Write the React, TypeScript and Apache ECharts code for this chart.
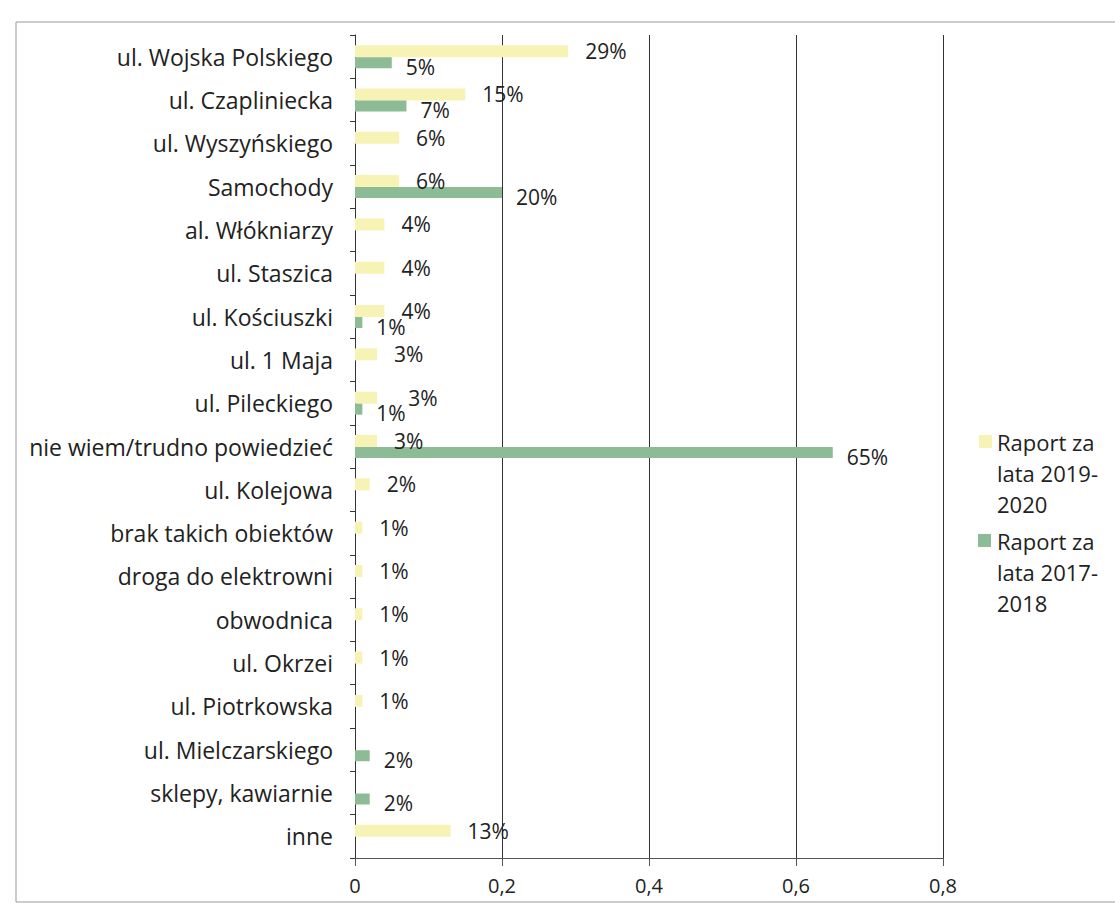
import React, { useEffect, useRef } from "react";
import * as echarts from "echarts";

const categories = [
  "ul. Wojska Polskiego",
  "ul. Czapliniecka",
  "ul. Wyszyńskiego",
  "Samochody",
  "al. Włókniarzy",
  "ul. Staszica",
  "ul. Kościuszki",
  "ul. 1 Maja",
  "ul. Pileckiego",
  "nie wiem/trudno powiedzieć",
  "ul. Kolejowa",
  "brak takich obiektów",
  "droga do elektrowni",
  "obwodnica",
  "ul. Okrzei",
  "ul. Piotrkowska",
  "ul. Mielczarskiego",
  "sklepy, kawiarnie",
  "inne",
];

const report2019_2020 = [0.29, 0.15, 0.06, 0.06, 0.04, 0.04, 0.04, 0.03, 0.03, 0.03, 0.02, 0.01, 0.01, 0.01, 0.01, 0.01, null, null, 0.13];
const report2017_2018 = [0.05, 0.07, null, 0.2, null, null, 0.01, null, 0.01, 0.65, null, null, null, null, null, null, 0.02, 0.02, null];

const xTicks = ["0", "0,2", "0,4", "0,6", "0,8"];
const seriesNames = ["Raport za lata 2019-2020", "Raport za lata 2017-2018"];
const colors = ["#f6f3b4", "#8dbb95"];

const FONT = "Open Sans";
const X_MAX = 0.8;
const GRID_LEFT = 355;
const GRID_RIGHT = 172;
const W = 1115;
const Y_DIST = 17;
const G_DIST = 14;
const LABEL_W = 28;

export default function App() {
  const ref = useRef<HTMLDivElement>(null);
  useEffect(() => {
    document.body.style.margin = "0";
    const chart = echarts.init(ref.current!, undefined, { renderer: "svg" });
    const labelFmt = (p: any) => Math.round(p.value * 100) + "%";
    const pxPerUnit = (W - GRID_LEFT - GRID_RIGHT) / X_MAX;
    // Excel nudged the upper label right when the lower label would sit on it
    const yellowData = report2019_2020.map((v, i) => {
      const g = report2017_2018[i];
      if (v == null || g == null || g > v) return v;
      const gEnd = g * pxPerUnit + G_DIST + LABEL_W;
      const yStart = v * pxPerUnit + Y_DIST;
      const overlap = gEnd - yStart;
      if (overlap > 5) return { value: v, label: { offset: [overlap + 4, 0] } };
      return v;
    });
    chart.setOption({
      animation: false,
      backgroundColor: "#ffffff",
      grid: { left: GRID_LEFT, right: GRID_RIGHT, top: 35, bottom: 50, containLabel: false },
      xAxis: {
        type: "value",
        min: 0,
        max: X_MAX,
        interval: 0.2,
        axisLine: { show: true, lineStyle: { color: "#555", width: 1 } },
        axisTick: { show: true, length: 8, lineStyle: { color: "#555" } },
        splitLine: { show: true, lineStyle: { color: "#333", width: 1 } },
        axisLabel: {
          margin: 17,
          fontFamily: FONT,
          fontSize: 20,
          color: "#222",
          formatter: (v: number) => xTicks[Math.round(v / 0.2)],
        },
      },
      yAxis: {
        type: "category",
        data: categories,
        inverse: true,
        axisLine: { show: true, lineStyle: { color: "#333", width: 1 } },
        axisTick: { show: true, length: 5, lineStyle: { color: "#333" } },
        axisLabel: { margin: 22, fontFamily: FONT, fontSize: 23, color: "#222" },
        splitLine: { show: false },
      },
      series: [
        {
          name: seriesNames[0],
          type: "bar",
          data: yellowData,
          barWidth: 12,
          barGap: "0%",
          itemStyle: { color: colors[0] },
          label: {
            show: true,
            position: "right",
            distance: Y_DIST,
            offset: [0, 0],
            fontFamily: FONT,
            fontSize: 21,
            color: "#222",
            formatter: labelFmt,
          },
        },
        {
          name: seriesNames[1],
          type: "bar",
          data: report2017_2018,
          barWidth: 11,
          barGap: "0%",
          itemStyle: { color: colors[1] },
          label: {
            show: true,
            position: "right",
            distance: G_DIST,
            offset: [0, 4],
            fontFamily: FONT,
            fontSize: 21,
            color: "#222",
            formatter: labelFmt,
          },
        },
      ],
      graphic: [
        { type: "line", shape: { x1: 16, y1: 22, x2: 1115, y2: 22 }, style: { stroke: "#999", lineWidth: 1 } },
        { type: "line", shape: { x1: 16, y1: 22, x2: 16, y2: 902 }, style: { stroke: "#999", lineWidth: 1 } },
        { type: "line", shape: { x1: 16, y1: 902, x2: 1115, y2: 902 }, style: { stroke: "#999", lineWidth: 1 } },
        { type: "rect", shape: { x: 979, y: 435, width: 13, height: 13 }, style: { fill: colors[0] } },
        {
          type: "text",
          x: 997,
          y: 426,
          style: { text: "Raport za\nlata 2019-\n2020", fontFamily: FONT, fontSize: 22, lineHeight: 31, fill: "#222" },
        },
        { type: "rect", shape: { x: 978, y: 534, width: 13, height: 13 }, style: { fill: colors[1] } },
        {
          type: "text",
          x: 997,
          y: 525,
          style: { text: "Raport za\nlata 2017-\n2018", fontFamily: FONT, fontSize: 22, lineHeight: 31, fill: "#222" },
        },
      ],
    });
    return () => chart.dispose();
  }, []);
  return <div ref={ref} style={{ width: 1115, height: 908 }} />;
}
